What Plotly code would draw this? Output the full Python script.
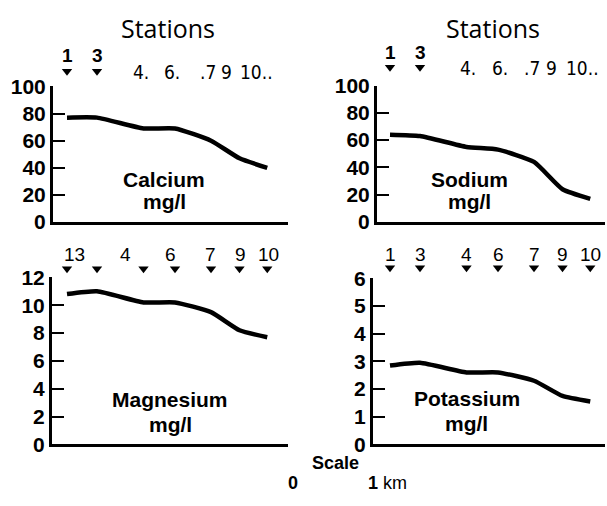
import plotly.graph_objects as go

# ---------------- data ----------------
stations = ["1", "3", "4", "6", "7", "9", "10"]
station_km = [0.0, 0.40, 1.02, 1.44, 1.92, 2.30, 2.67]   # distance downstream from station 1

calcium = [77, 77, 69, 69, 60, 47, 40]          # mg/l
sodium = [64, 63, 55, 53, 44, 24, 17]           # mg/l
magnesium = [10.8, 11.0, 10.2, 10.2, 9.5, 8.2, 7.7]  # mg/l
potassium = [2.85, 2.95, 2.6, 2.6, 2.3, 1.75, 1.55]  # mg/l

calcium_ticks = [0, 20, 40, 60, 80, 100]
sodium_ticks = [0, 20, 40, 60, 80, 100]
magnesium_ticks = [0, 2, 4, 6, 8, 10, 12]
potassium_ticks = [0, 1, 2, 3, 4, 5, 6]

top_marked_labels = ["1", "3"]
top_plain_labels = ["4.", "6.", ".7", "9", "10.."]
mg_station_labels = ["13", "4", "6", "7", "9", "10"]
k_station_labels = ["1", "3", "4", "6", "7", "9", "10"]

# ---------------- layout geometry (pixels) ----------------
W, H = 607, 506
PX_PER_KM = 75.0

panels = [
    dict(name="Calcium", vals=calcium, ticks=calcium_ticks, x0=53, x1=288, top=78, bot=220, st1=67, tri=62),
    dict(name="Sodium", vals=sodium, ticks=sodium_ticks, x0=377, x1=605, top=77, bot=220, st1=390, tri=58),
    dict(name="Magnesium", vals=magnesium, ticks=magnesium_ticks, x0=52, x1=288, top=278, bot=453, st1=67, tri=269),
    dict(name="Potassium", vals=potassium, ticks=potassium_ticks, x0=373, x1=605, top=279, bot=453, st1=390, tri=268),
]

BOLD = dict(family="Liberation Sans, Arial, sans-serif", color="black", weight="bold")
REG = dict(family="Liberation Sans, Arial, sans-serif", color="black")
NARROW = dict(family="Liberation Sans Narrow, DejaVu Sans Condensed, Arial Narrow, sans-serif", color="black")

fig = go.Figure()
layout = dict(
    width=W, height=H, autosize=False,
    margin=dict(l=0, r=0, t=0, b=0),
    paper_bgcolor="white", plot_bgcolor="rgba(0,0,0,0)",
    showlegend=False,
)
annotations = []


def px2paper(x, y):
    return x / W, 1 - y / H


for i, p in enumerate(panels):
    k = "" if i == 0 else str(i + 1)
    xa, ya = "x" + k, "y" + k
    mk_axis = "y" + str(5 + i)
    ymin, ymax = p["ticks"][0], p["ticks"][-1]
    xr = [-(p["st1"] - p["x0"]) / PX_PER_KM, (p["x1"] - p["st1"]) / PX_PER_KM]

    # concentration profile
    fig.add_trace(go.Scatter(
        x=station_km, y=p["vals"], xaxis=xa, yaxis=ya, mode="lines",
        line=dict(color="black", width=4.5, shape="spline", smoothing=0.5),
        hoverinfo="skip"))

    # station markers (down triangles above the plot, on their own thin strip axis)
    mk_x = station_km[:2] if i < 2 else station_km
    fig.add_trace(go.Scatter(
        x=mk_x, y=[0.5] * len(mk_x), xaxis=xa, yaxis=mk_axis, mode="markers",
        marker=dict(symbol="triangle-down", size=9, color="black", line=dict(width=0)),
        cliponaxis=False, hoverinfo="skip"))

    layout["xaxis" + k] = dict(
        domain=[p["x0"] / W, p["x1"] / W], range=xr, anchor=ya,
        showline=True, linecolor="black", linewidth=3, showticklabels=False,
        ticks="", showgrid=False, zeroline=False, fixedrange=True)
    layout["yaxis" + k] = dict(
        domain=[1 - p["bot"] / H, 1 - p["top"] / H], range=[ymin, ymax], anchor=xa,
        tickvals=p["ticks"], ticks="inside", ticklen=12, tickwidth=2, tickcolor="black",
        showline=True, linecolor="black", linewidth=3,
        tickfont=dict(size=21, **BOLD), showgrid=False, zeroline=False, fixedrange=True)
    layout["yaxis" + str(5 + i)] = dict(
        domain=[1 - (p["tri"] + 7) / H, 1 - (p["tri"] - 7) / H], range=[0, 1], anchor=xa,
        visible=False, showgrid=False, zeroline=False, fixedrange=True)

    # element labels
    lab_pos = {"Calcium": (164, 175, 199), "Sodium": (469, 175, 199),
               "Magnesium": (170, 406, 432), "Potassium": (467, 405, 431)}[p["name"]]
    for txt, yy in ((p["name"], lab_pos[1]), ("mg/l", lab_pos[2])):
        ax_, ay_ = px2paper(lab_pos[0], yy)
        annotations.append(dict(text=txt, x=ax_, y=ay_, xref="paper", yref="paper",
                                xanchor="center", yanchor="middle", showarrow=False,
                                font=dict(size=21, **BOLD)))

    # station number labels
    if i < 2:
        for s, xk in zip(top_marked_labels, station_km[:2]):
            annotations.append(dict(text=s, x=xk, y=1 - (p["tri"] - 16) / H, xref=xa, yref="paper",
                                    xanchor="center", yanchor="middle", showarrow=False,
                                    font=dict(size=19, **BOLD)))
        shifts = [-3, -3, -3, -13, -11] if i == 0 else [1, 2, -2, -11, -8]
        for s, xk, sh in zip(top_plain_labels, station_km[2:], shifts):
            annotations.append(dict(text=s, x=xk, xshift=sh, y=1 - (p["tri"] + 1) / H, xref=xa, yref="paper",
                                    xanchor="center", yanchor="middle", showarrow=False,
                                    font=dict(size=19, **NARROW)))
    elif i == 2:
        mg_px = [74, 125, 170, 210, 240, 268]
        for s, xp in zip(mg_station_labels, mg_px):
            annotations.append(dict(text=s, x=xp / W, y=1 - 254 / H, xref="paper", yref="paper",
                                    xanchor="center", yanchor="middle", showarrow=False,
                                    font=dict(size=19, **REG)))
    else:
        for s, xk in zip(k_station_labels, station_km):
            annotations.append(dict(text=s, x=xk, y=1 - 254 / H, xref=xa, yref="paper",
                                    xanchor="center", yanchor="middle", showarrow=False,
                                    font=dict(size=19, **REG)))

# headers
for cx in (168, 493):
    annotations.append(dict(text="Stations", x=cx / W, y=1 - 17 / H, xref="paper", yref="paper",
                            xanchor="center", yanchor="middle", showarrow=False,
                            font=dict(family="Open Sans, DejaVu Sans, sans-serif", size=25, color="black")))

# scale
annotations.append(dict(text="Scale", x=335 / W, y=1 - 472 / H, xref="paper", yref="paper",
                        xanchor="center", yanchor="middle", showarrow=False, font=dict(size=18, **BOLD)))
annotations.append(dict(text="0", x=293 / W, y=1 - 493 / H, xref="paper", yref="paper",
                        xanchor="center", yanchor="middle", showarrow=False, font=dict(size=18, **BOLD)))
annotations.append(dict(text="<b>1</b> km", x=387 / W, y=1 - 493 / H, xref="paper", yref="paper",
                        xanchor="center", yanchor="middle", showarrow=False, font=dict(size=18, **REG)))

layout["annotations"] = annotations
fig.update_layout(**layout)
fig.write_html("out.html")
